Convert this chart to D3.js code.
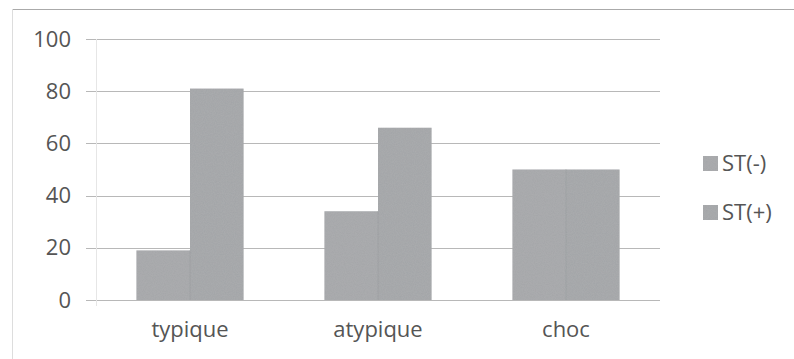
<!DOCTYPE html>
<html>
<head>
<meta charset="utf-8">
<script src="https://cdn.jsdelivr.net/npm/d3@7"></script>
<style>
  html, body { margin: 0; padding: 0; background: #fff; }
  svg { display: block; }
</style>
</head>
<body>
<svg id="chart" width="794" height="359"></svg>
<script>
// Chart data
const categories = ["typique", "atypique", "choc"];
const seriesNames = ["ST(-)", "ST(+)"];
const stMinus = [19, 34, 50];
const stPlus = [81, 66, 50];
const yTicks = [0, 20, 40, 60, 80, 100];

const svg = d3.select("#chart");
const W = 794, H = 359;
const textColor = "#555";
const font = "'Open Sans', sans-serif";

// Grain texture for the bars
const defs = svg.append("defs");
const f = defs.append("filter").attr("id", "grain").attr("x", 0).attr("y", 0).attr("width", 1).attr("height", 1);
f.append("feTurbulence").attr("type", "fractalNoise").attr("baseFrequency", 0.9).attr("numOctaves", 2).attr("seed", 3).attr("result", "n");
f.append("feColorMatrix").attr("in", "n").attr("type", "matrix")
  .attr("values", "0 0 0 0 0.5  0 0 0 0 0.5  0 0 0 0 0.5  0 0 0 0.35 0").attr("result", "nm");
f.append("feComposite").attr("in", "nm").attr("in2", "SourceGraphic").attr("operator", "in").attr("result", "nc");
f.append("feMerge").selectAll("feMergeNode").data(["SourceGraphic", "nc"]).enter()
  .append("feMergeNode").attr("in", d => d);

// Outer frame
svg.append("line").attr("x1", 12).attr("x2", W).attr("y1", 9.5).attr("y2", 9.5)
  .attr("stroke", "#aaa").attr("stroke-width", 1.2);
svg.append("line").attr("x1", 12.5).attr("x2", 12.5).attr("y1", 9).attr("y2", H)
  .attr("stroke", "#ddd").attr("stroke-width", 1);

const plot = { left: 96, right: 660, top: 39, bottom: 300 };

const y = d3.scaleLinear().domain([0, 100]).range([plot.bottom, plot.top]);
const x0 = d3.scaleBand().domain(categories).range([plot.left, plot.right])
  .paddingInner(0.43).paddingOuter(0.215);
const x1 = d3.scaleBand().domain(seriesNames).range([0, x0.bandwidth()]).padding(0);

// Gridlines
svg.append("g").selectAll("line").data(yTicks).enter().append("line")
  .attr("x1", 86).attr("x2", plot.right)
  .attr("y1", d => Math.round(y(d)) + 0.5).attr("y2", d => Math.round(y(d)) + 0.5)
  .attr("stroke", "#b8b8b8").attr("stroke-width", 1);

// Faint vertical axis
svg.append("line").attr("x1", plot.left + 0.5).attr("x2", plot.left + 0.5)
  .attr("y1", plot.top).attr("y2", plot.bottom + 6)
  .attr("stroke", "#e6e6e6");

// Y axis labels
const yAxis = d3.axisLeft(y).tickValues(yTicks).tickSize(0).tickPadding(0);
const gy = svg.append("g").attr("transform", `translate(71,0)`).call(yAxis);
gy.select(".domain").remove();
gy.selectAll("text").attr("fill", textColor).style("font-family", font).style("font-size", "22px");

// X axis labels
const xAxis = d3.axisBottom(x0).tickSize(0).tickPadding(0);
const gx = svg.append("g").attr("transform", `translate(0,321)`).call(xAxis);
gx.select(".domain").remove();
gx.selectAll("text").attr("fill", textColor).style("font-family", font).style("font-size", "22px")
  .attr("dy", "0.71em");

// Bars
const rows = categories.map((c, i) => ({ cat: c, vals: [stMinus[i], stPlus[i]] }));
const colors = d3.scaleOrdinal().domain(seriesNames).range(["#a4a6a9", "#a2a4a7"]);
const groups = svg.append("g").attr("filter", "url(#grain)")
  .selectAll("g").data(rows).enter().append("g")
  .attr("transform", d => `translate(${x0(d.cat)},0)`);
groups.selectAll("rect").data(d => d.vals.map((v, j) => ({ s: seriesNames[j], v }))).enter()
  .append("rect")
  .attr("x", d => x1(d.s)).attr("width", x1.bandwidth())
  .attr("y", d => y(d.v)).attr("height", d => plot.bottom - y(d.v))
  .attr("fill", d => colors(d.s));
// thin divider between paired bars
groups.append("line")
  .attr("x1", x1("ST(+)")).attr("x2", x1("ST(+)"))
  .attr("y1", d => y(Math.min(d.vals[0], d.vals[1]))).attr("y2", plot.bottom)
  .attr("stroke", "#979a9d").attr("stroke-width", 0.8);

// Legend
const legend = svg.append("g").attr("transform", "translate(703,156)");
const li = legend.selectAll("g").data(seriesNames).enter().append("g")
  .attr("transform", (d, i) => `translate(0,${i * 49})`);
li.append("rect").attr("width", 15).attr("height", 15).attr("fill", d => colors(d))
  .attr("filter", "url(#grain)");
li.append("text").attr("x", 19).attr("y", 7.5).attr("dy", "0.36em")
  .attr("fill", textColor).style("font-family", font).style("font-size", "22px")
  .text(d => d);
</script>
</body>
</html>
